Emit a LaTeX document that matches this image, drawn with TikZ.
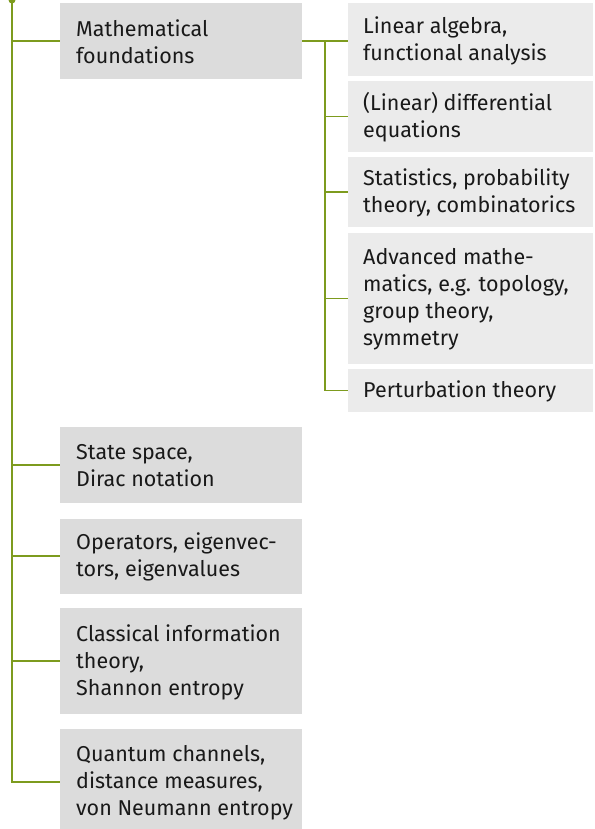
\documentclass[tikz,border=0pt]{standalone}
\usepackage{fontspec}
\setmainfont{Fira Sans}
\definecolor{leftgray}{HTML}{DCDCDC}
\definecolor{rightgray}{HTML}{EBEBEB}
\definecolor{lgreen}{HTML}{7D9B1E}
\tikzset{
  lbox/.style={fill=leftgray, minimum width=242pt, inner sep=0pt, anchor=west},
  rbox/.style={fill=rightgray, minimum width=245pt, inner sep=0pt, anchor=west},
  btext/.style={font=\fontsize{21.5}{27}\selectfont, align=left, inner sep=0pt, anchor=west, text=black!90},
  conn/.style={draw=lgreen, line width=1.4pt},
}
\begin{document}
\begin{tikzpicture}[x=1pt,y=-1pt]
\clip (0,0) rectangle (594,829);
\fill[white] (0,0) rectangle (594,829);
% left boxes
\node[lbox, minimum height=76pt] (lb1) at (60,41) {};
\node[lbox, minimum height=76pt] (lb2) at (60,465) {};
\node[lbox, minimum height=75pt] (lb3) at (60,556) {};
\node[lbox, minimum height=106pt] (lb4) at (60,661) {};
\node[lbox, minimum height=106pt] (lb5) at (60,782) {};
\node[btext] (lt1) at ([xshift=16pt,yshift=-1pt]lb1.west) {Mathematical\\foundations};
\node[btext] (lt2) at ([xshift=16pt,yshift=-1pt]lb2.west) {State space,\\Dirac notation};
\node[btext] (lt3) at ([xshift=16pt,yshift=-1pt]lb3.west) {Operators, eigenvec-\\tors, eigenvalues};
\node[btext] (lt4) at ([xshift=16pt,yshift=-1pt]lb4.west) {Classical information\\theory,\\Shannon entropy};
\node[btext] (lt5) at ([xshift=16pt,yshift=-1pt]lb5.west) {Quantum channels,\\distance measures,\\von Neumann entropy};
% right boxes
\node[rbox, minimum height=73pt] (rb1) at (348,39.5) {};
\node[rbox, minimum height=71pt] (rb2) at (348,116.5) {};
\node[rbox, minimum height=70pt] (rb3) at (348,192) {};
\node[rbox, minimum height=131pt] (rb4) at (348,298.5) {};
\node[rbox, minimum height=43pt] (rb5) at (348,390.5) {};
\node[btext] (rt1) at ([xshift=15pt,yshift=-1pt]rb1.west) {Linear algebra,\\functional analysis};
\node[btext] (rt2) at ([xshift=15pt,yshift=-1pt]rb2.west) {(Linear) differential\\equations};
\node[btext] (rt3) at ([xshift=15pt,yshift=-1pt]rb3.west) {Statistics, probability\\theory, combinatorics};
\node[btext] (rt4) at ([xshift=15pt,yshift=-1pt]rb4.west) {Advanced mathe-\\matics, e.g. topology,\\group theory,\\symmetry};
\node[btext] (rt5) at ([xshift=15pt,yshift=-1pt]rb5.west) {Perturbation theory};
% trunk
\coordinate (top) at (12,0);
\coordinate (br) at (325,41);
\draw[conn] (top) |- (lb5.west);
\draw[conn] (top |- lb1.west) -- (lb1.west);
\draw[conn] (top |- lb2.west) -- (lb2.west);
\draw[conn] (top |- lb3.west) -- (lb3.west);
\draw[conn] (top |- lb4.west) -- (lb4.west);
\node[circle, fill=lgreen, inner sep=0pt, minimum size=7pt] (dot) at (top) {};
% branch
\draw[conn] (lb1.east) -- (lb1.east -| rb1.west);
\draw[conn] (br) |- (rb5.west);
\draw[conn] (br |- rb2.west) -- (rb2.west);
\draw[conn] (br |- rb3.west) -- (rb3.west);
\draw[conn] (br |- rb4.west) -- (rb4.west);
\end{tikzpicture}
\end{document}
